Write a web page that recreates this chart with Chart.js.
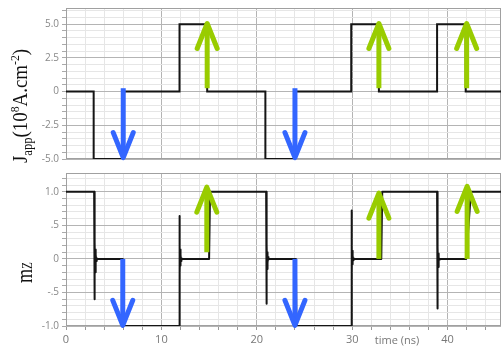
<!DOCTYPE html>
<html>
<head>
<meta charset="utf-8">
<script src="https://cdn.jsdelivr.net/npm/chart.js@4.4.1/dist/chart.umd.min.js"></script>
<style>
  body { margin: 0; background: #fff; }
  #wrap { position: relative; width: 501px; height: 350px; }
  #top { position: absolute; left: 0; top: 0; }
  #bot { position: absolute; left: 0; top: 170px; }
</style>
</head>
<body>
<div id="wrap">
  <canvas id="top" width="501" height="170"></canvas>
  <canvas id="bot" width="501" height="180"></canvas>
</div>
<script>
// applied current density: each level starts at its time and holds until the next one
const jTime  = [0, 2.9, 6.0, 11.9, 14.8, 20.9, 24.0, 29.9, 32.8, 38.9, 41.9, 45.6];
const jValue = [0, -5,  0,   5,    0,    -5,   0,    5,    0,    5,    0,    0];

// m_z response, with the ringing after each switch
const mzTime = [0, 2.95, 2.97, 2.99, 3.01, 3.03, 3.05, 3.08, 3.11, 3.14, 3.18, 3.22, 3.28,
  5.95, 6.0, 11.86,
  11.88, 11.90, 11.92, 11.94, 11.96, 11.99, 12.02, 12.06, 12.10, 12.16,
  15.0, 15.1, 20.98,
  21.0, 21.02, 21.04, 21.06, 21.08, 21.11, 21.14, 21.18, 21.22, 21.28,
  24.1, 24.15, 29.9,
  29.92, 29.94, 29.96, 29.98, 30.00, 30.03, 30.06, 30.10, 30.14, 30.20,
  33.05, 33.15, 38.9,
  38.92, 38.94, 38.96, 38.98, 39.00, 39.03, 39.06, 39.10, 39.14, 39.20,
  41.95, 42.45, 45.6];
const mzValue = [1, 1, -0.60, 0.32, -0.40, 0.25, -0.20, 0.14, -0.10, 0.06, -0.03, 0.01, 0,
  0, -1, -1,
  0.64, -0.32, 0.17, -0.22, 0.14, -0.10, 0.06, -0.03, 0.01, 0,
  0, 1, 1,
  -0.67, 0.45, -0.30, 0.22, -0.15, 0.10, -0.06, 0.03, -0.01, 0,
  0, -1, -1,
  0.72, -0.25, 0.20, -0.16, 0.12, -0.08, 0.05, -0.02, 0.01, 0,
  0, 1, 1,
  -0.74, 0.30, -0.25, 0.18, -0.12, 0.08, -0.05, 0.02, -0.01, 0,
  0, 1, 1];

// arrows: time, tail value, tip value
const topArrowTime = [6.0, 14.8, 24.0, 32.8, 42.0];
const topArrowFrom = [0.25, 0.25, 0.25, 0.25, 0.25];
const topArrowTo   = [-4.9, 5.05, -4.9, 5.05, 5.05];
const botArrowTime = [5.95, 14.76, 24.0, 32.8, 42.05];
const botArrowFrom = [0, 0.1, 0, 0, 0];
const botArrowTo   = [-0.99, 1.07, -0.99, 0.98, 1.08];

const xTickValues = [0, 10, 20, 30, 40];
const xTickLabels = ['0', '10', '20', '30', '40'];
const topTickValues = [-5, -2.5, 0, 2.5, 5];
const topTickLabels = ['-5.0', '-2.5', '0', '2.5', '5.0'];
const botTickValues = [-1, -0.5, 0, 0.5, 1];
const botTickLabels = ['-1.0', '-.5', '0', '.5', '1.0'];

const BLUE = '#3366ff', GREEN = '#99cc00';
const MAJOR = '#b4b4b4', MINOR = '#e6e6e6';

function steps(min, max, step) {
  const out = [];
  for (let i = Math.ceil(min / step - 1e-9); i * step <= max + 1e-9; i++) out.push(+(i * step).toFixed(4));
  return out;
}
const has = (arr, v) => arr.some(t => Math.abs(t - v) < 1e-6);
const labelFor = (vals, labs) => v => {
  const k = vals.findIndex(t => Math.abs(t - v) < 1e-6);
  return k < 0 ? '' : labs[k];
};

function xAxis(showLabels) {
  return {
    type: 'linear', min: 0, max: 45.6,
    afterBuildTicks: s => { s.ticks = steps(0, 44, 2).map(v => ({ value: v })); },
    afterFit: s => { s.height = showLabels ? 24 : 11; s.paddingLeft = 0; s.paddingRight = 0; },
    border: { display: false },
    grid: {
      color: c => has(xTickValues, c.tick.value) ? MAJOR : MINOR,
      drawTicks: showLabels, tickLength: 4, tickColor: '#999'
    },
    ticks: {
      display: showLabels, autoSkip: false, maxRotation: 0, padding: 3,
      color: '#777', font: { family: 'Open Sans', size: 11 },
      callback: labelFor(xTickValues, xTickLabels)
    }
  };
}

function yAxis(min, max, step, vals, labs) {
  return {
    min, max,
    afterBuildTicks: s => { s.ticks = steps(min, max, step).map(v => ({ value: v })); },
    afterFit: s => { s.width = 66; s.paddingTop = 0; s.paddingBottom = 0; },
    border: { display: false },
    grid: {
      color: c => has(vals, c.tick.value) ? MAJOR : MINOR,
      tickLength: 4, tickColor: '#aaa'
    },
    ticks: {
      autoSkip: false, padding: 3, color: '#888',
      font: { family: 'Open Sans', size: 10 },
      callback: labelFor(vals, labs)
    }
  };
}

function drawRich(ctx, x, y, parts, squeeze) {
  ctx.save();
  ctx.translate(x, y);
  ctx.rotate(-Math.PI / 2);
  ctx.scale(squeeze, 1);
  ctx.fillStyle = '#111';
  ctx.textBaseline = 'alphabetic';
  let pos = 0;
  parts.forEach(p => {
    ctx.font = p.size + 'px "Liberation Serif"';
    ctx.fillText(p.text, pos, p.dy);
    pos += ctx.measureText(p.text).width;
  });
  ctx.restore();
}

function decorations(times, from, to, drawTitle) {
  return {
    id: 'decor',
    beforeDatasetsDraw(chart) {
      const { ctx, chartArea: a } = chart;
      ctx.save();
      ctx.strokeStyle = '#a0a0a0';
      ctx.lineWidth = 1;
      ctx.strokeRect(a.left + 0.5, a.top + 0.5, a.right - a.left - 1, a.bottom - a.top - 1);
      ctx.restore();
    },
    afterDatasetsDraw(chart) {
      const { ctx, scales: { x, y } } = chart;
      times.forEach((t, i) => {
        const px = x.getPixelForValue(t);
        const p0 = y.getPixelForValue(from[i]);
        const p1 = y.getPixelForValue(to[i]);
        const dir = p1 < p0 ? -1 : 1;
        ctx.save();
        ctx.strokeStyle = to[i] > from[i] ? GREEN : BLUE;
        ctx.lineWidth = 5;
        ctx.lineCap = 'butt';
        ctx.beginPath();
        ctx.moveTo(px, p0);
        ctx.lineTo(px, p1 - dir * 3);
        ctx.stroke();
        ctx.lineCap = 'round';
        ctx.lineJoin = 'round';
        ctx.beginPath();
        ctx.moveTo(px - 10, p1 - dir * 25);
        ctx.lineTo(px, p1);
        ctx.lineTo(px + 10, p1 - dir * 25);
        ctx.stroke();
        ctx.restore();
      });
    },
    afterDraw(chart) { drawTitle(chart.ctx); }
  };
}

new Chart(document.getElementById('top'), {
  type: 'line',
  data: {
    datasets: [{
      data: jTime.map((t, i) => ({ x: t, y: jValue[i] })),
      stepped: 'before', borderColor: '#151515', borderWidth: 2, pointRadius: 0
    }]
  },
  options: {
    responsive: false, animation: false,
    layout: { padding: { top: 8, left: 0, right: 0, bottom: 0 } },
    plugins: { legend: { display: false }, tooltip: { enabled: false } },
    scales: { x: xAxis(false), y: yAxis(-5, 6.2, 0.5, topTickValues, topTickLabels) }
  },
  plugins: [decorations(topArrowTime, topArrowFrom, topArrowTo, ctx => {
    drawRich(ctx, 27, 163, [
      { text: 'J', size: 21, dy: 0 },
      { text: 'app', size: 14, dy: 5 },
      { text: '(10', size: 21, dy: 0 },
      { text: '8', size: 13, dy: -8 },
      { text: 'A.cm', size: 21, dy: 0 },
      { text: '-2', size: 13, dy: -8 },
      { text: ')', size: 21, dy: 0 }
    ], 0.9);
  })]
});

new Chart(document.getElementById('bot'), {
  type: 'line',
  data: {
    datasets: [{
      data: mzTime.map((t, i) => ({ x: t, y: mzValue[i] })),
      borderColor: '#151515', borderWidth: 2, pointRadius: 0,
      borderJoinStyle: 'round'
    }]
  },
  options: {
    responsive: false, animation: false,
    layout: { padding: { top: 3, left: 0, right: 0, bottom: 0 } },
    plugins: { legend: { display: false }, tooltip: { enabled: false } },
    scales: { x: xAxis(true), y: yAxis(-1, 1.28, 0.1, botTickValues, botTickLabels) }
  },
  plugins: [decorations(botArrowTime, botArrowFrom, botArrowTo, ctx => {
    drawRich(ctx, 32, 113, [
      { text: 'm', size: 24, dy: 0 },
      { text: 'Z', size: 15, dy: 0 }
    ], 0.75);
    ctx.save();
    ctx.font = '11px "Open Sans"';
    ctx.fillStyle = '#777';
    ctx.textAlign = 'center';
    ctx.textBaseline = 'middle';
    ctx.fillText('time (ns)', 397, 170.5);
    ctx.restore();
  })]
});
</script>
</body>
</html>
